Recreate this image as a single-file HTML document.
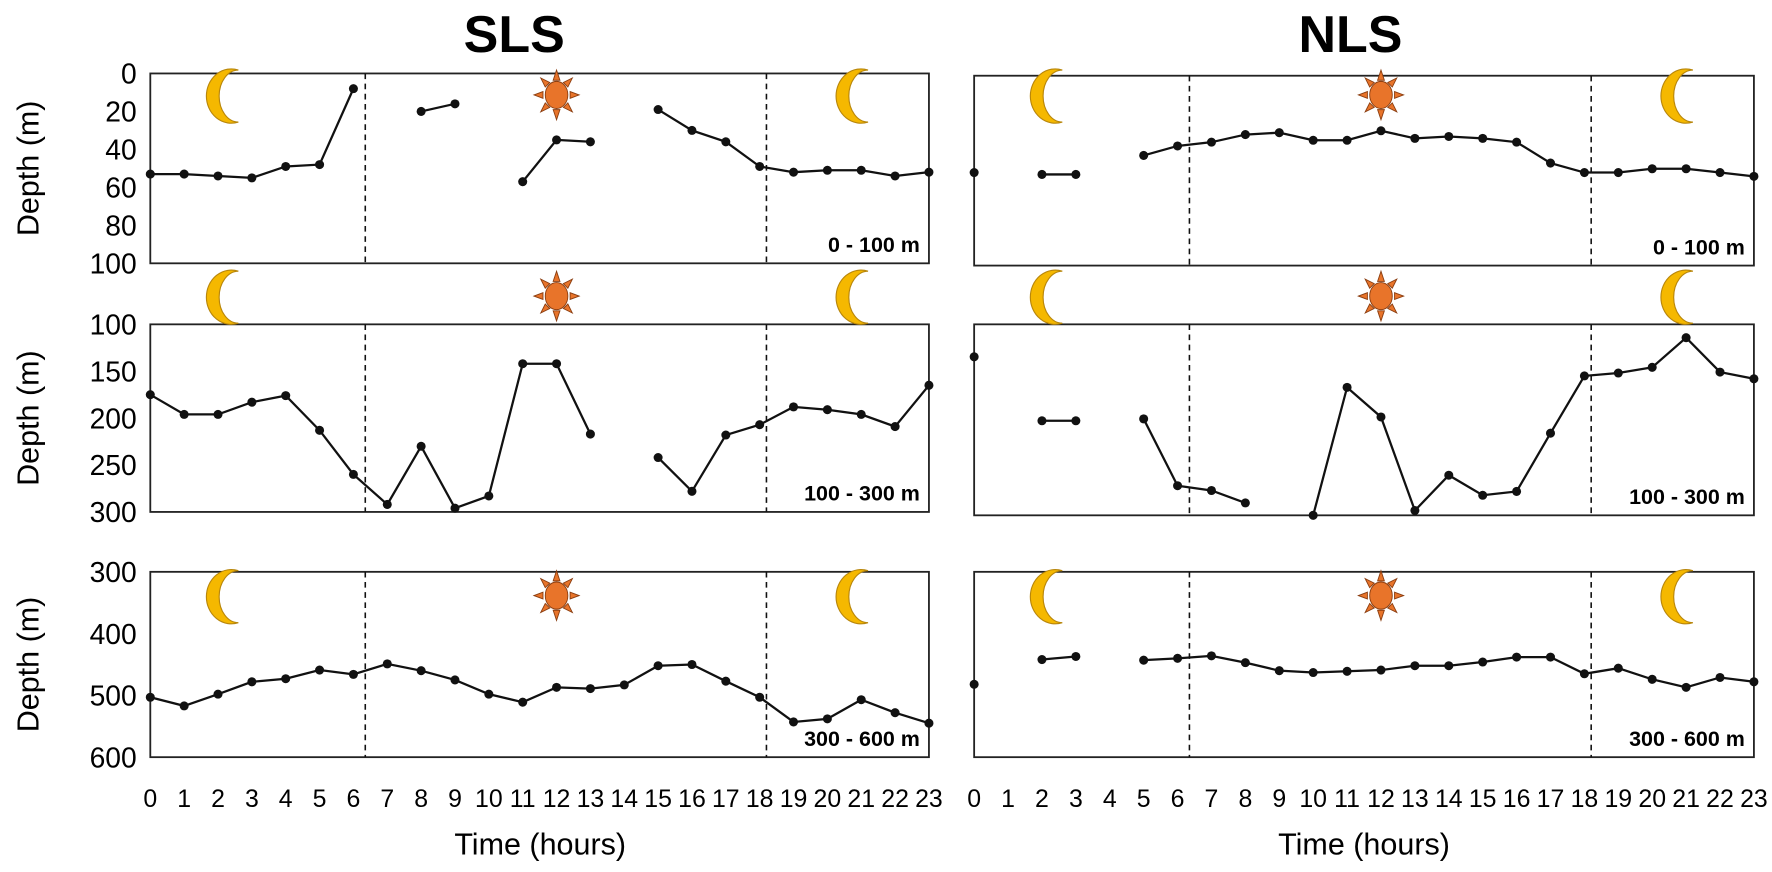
<!DOCTYPE html>
<html><head><meta charset="utf-8"><style>
body{margin:0;background:#fff;}
svg text{font-family:"Liberation Sans",sans-serif;}
</style></head><body>
<svg id="c" width="1772" height="867" xmlns="http://www.w3.org/2000/svg">
<defs>
<g id="moon"><path d="M13,-22 A22,24 0 1 0 13,24 A17,23 0 0 1 13,-22 Z" fill="#f5b800" stroke="#b8860b" stroke-width="1"/></g>
<g id="sun"><g fill="#e8742a" stroke="#8a3d10" stroke-width="0.8">
<polygon points="0,-22 -3,-13 3,-13"/><polygon points="0,22 -3,13 3,13"/><polygon points="-20,0 -12,-3 -12,3"/><polygon points="20,0 12,-3 12,3"/>
<polygon points="-14,-15 -10,-7 -6,-11"/><polygon points="14,-15 10,-7 6,-11"/><polygon points="-14,15 -10,7 -6,11"/><polygon points="14,15 10,7 6,11"/>
<ellipse cx="0" cy="0" rx="10" ry="12"/></g></g>
</defs>
<g id="root" transform="scale(1.1301)">
<text x="455" y="46" font-size="46" font-weight="bold" text-anchor="middle">SLS</text>
<text x="1195" y="46" font-size="46" font-weight="bold" text-anchor="middle">NLS</text>
<text x="478" y="756" font-size="27" text-anchor="middle">Time (hours)</text>
<text x="1207" y="756" font-size="27" text-anchor="middle">Time (hours)</text>
</g>
</svg>
<script>
const hours = [0,1,2,3,4,5,6,7,8,9,10,11,12,13,14,15,16,17,18,19,20,21,22,23];
const slsShallow = [53,53,54,55,49,48,8,null,20,16,null,57,35,36,null,19,30,36,49,52,51,51,54,52];
const slsMid = [175,196,196,183,176,213,260,292,230,296,283,142,142,217,null,242,278,218,207,188,191,196,209,165];
const slsDeep = [503,517,498,478,473,459,466,449,460,475,498,511,487,489,483,452,450,477,503,543,538,507,528,545];
const nlsShallow = [51,null,52,52,null,42,37,35,31,30,34,34,29,33,32,33,35,46,51,51,49,49,51,53];
const nlsMid = [134,null,201,201,null,199,269,274,287,null,300,166,197,295,258,279,275,214,154,151,145,114,150,157];
const nlsDeep = [482,null,442,437,null,443,440,436,447,460,463,461,459,452,452,446,438,438,465,456,474,487,471,478];
const shallowTicks = [0,20,40,60,80,100];
const midTicks = [100,150,200,250,300];
const deepTicks = [300,400,500,600];
const rangeLabels = ["0 - 100 m","100 - 300 m","300 - 600 m"];
const dawnHour = 6.35, duskHour = 18.2;

const svg = document.getElementById('root');
const NS = 'http://www.w3.org/2000/svg';
function mk(tag, attrs, parent){const e=document.createElementNS(NS,tag);for(const k in attrs)e.setAttribute(k,attrs[k]);(parent||svg).appendChild(e);return e;}

function panel(side, idx, x0, x1, y0, y1, data, ticks, showY, iconY){
  const g = mk('g',{});
  
  
  const lo = ticks[0], hi = ticks[ticks.length-1];
  const xs = h => x0 + (x1-x0)*h/23;
  const ys = d => y0 + (y1-y0)*(d-lo)/(hi-lo);
  const box = mk('rect',{x:x0,y:y0,width:x1-x0,height:y1-y0,fill:'none',stroke:'#222','stroke-width':1.6},g);
  
  
  [dawnHour,duskHour].forEach(h=>{
    const l = mk('line',{x1:xs(h),x2:xs(h),y1:y0,y2:y1,stroke:'#111','stroke-width':1.4,'stroke-dasharray':'5,4'},g);
    
    
  });
  [[2.1,'moon'],[12,'sun'],[20.7,'moon']].forEach(([h,t])=>{
    const u = mk('use',{href:'#'+t,x:xs(h)-(t==='moon'?-2:0),y:iconY},g);
    
    
  });
  if(showY){
    ticks.forEach(t=>{
      const tx = mk('text',{x:x0-12,y:ys(t)+9,'font-size':25,'text-anchor':'end'},g);
      tx.textContent = t;
      
      
    });
    const cy=(y0+y1)/2;
    const yt = mk('text',{x:34,y:cy,'font-size':27,'text-anchor':'middle',transform:'rotate(-90 34 '+cy+')'},g);
    yt.textContent='Depth (m)';
    
    
  }
  const rl = mk('text',{x:x1-8,y:y1-10,'font-size':19,'font-weight':'bold','text-anchor':'end'},g);
  rl.textContent = rangeLabels[idx];
  
  
  let seg=[];
  const flush=()=>{ if(seg.length>1){const p=mk('polyline',{points:seg.join(' '),fill:'none',stroke:'#111','stroke-width':2},g);
      
      } seg=[]; };
  hours.forEach((h,i)=>{ const v=data[i]; if(v===null){flush();return;} seg.push(xs(h)+','+ys(v)); });
  flush();
  hours.forEach((h,i)=>{ const v=data[i]; if(v===null)return;
    const c = mk('circle',{cx:xs(h),cy:ys(v),r:4,fill:'#111'},g);
    
    
  });
  return xs;
}

const L=[133,822], R=[862,1552];
const rows=[[65,233,84],[287,453,262],[506,670,527]];
const rowsR=[[67,235,84],[287,456,262],[506,670,527]];
const sls=[slsShallow,slsMid,slsDeep], nls=[nlsShallow,nlsMid,nlsDeep], tk=[shallowTicks,midTicks,deepTicks];
let xsL, xsR;
for(let i=0;i<3;i++){
  xsL = panel('sls',i,L[0],L[1],rows[i][0],rows[i][1],sls[i],tk[i],true,rows[i][2]);
  xsR = panel('nls',i,R[0],R[1],rowsR[i][0],rowsR[i][1],nls[i],tk[i],false,rowsR[i][2]);
}
hours.forEach(h=>{
  [xsL,xsR].forEach((xs,j)=>{
    const t = mk('text',{x:xs(h),y:714,'font-size':22,'text-anchor':'middle'});
    t.textContent=h;
    
    
  });
});
</script>
</body></html>
